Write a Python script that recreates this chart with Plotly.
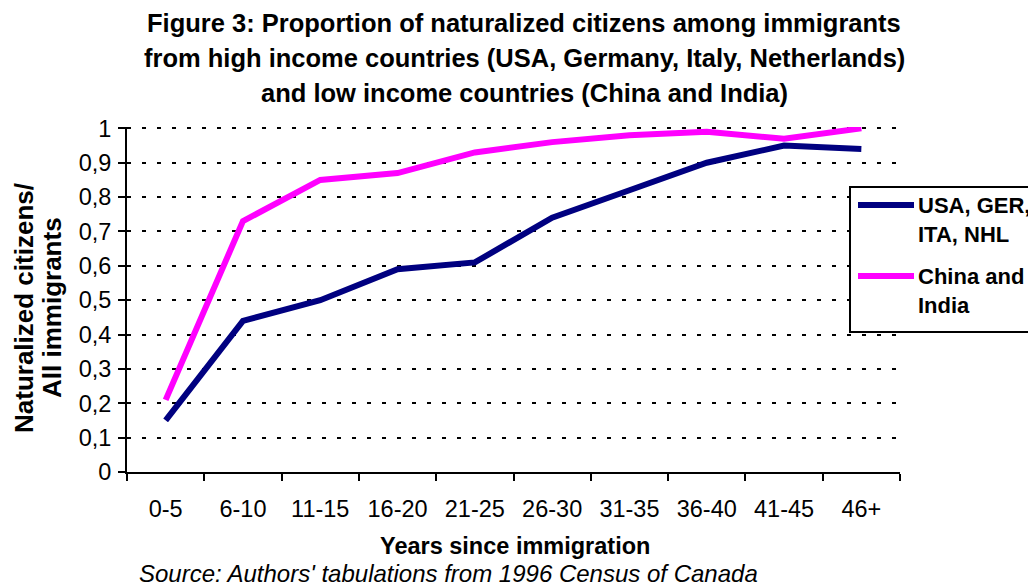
import plotly.graph_objects as go

categories = ["0-5", "6-10", "11-15", "16-20", "21-25", "26-30", "31-35", "36-40", "41-45", "46+"]
high_income = [0.15, 0.44, 0.50, 0.59, 0.61, 0.74, 0.82, 0.90, 0.95, 0.94]
low_income = [0.21, 0.73, 0.85, 0.87, 0.93, 0.96, 0.98, 0.99, 0.97, 1.00]
series_names = ["USA, GER,<br>ITA, NHL", "China and<br>India"]
ytick_vals = [0, 0.1, 0.2, 0.3, 0.4, 0.5, 0.6, 0.7, 0.8, 0.9, 1.0]
ytick_text = ["0", "0,1", "0,2", "0,3", "0,4", "0,5", "0,6", "0,7", "0,8", "0,9", "1"]
title_lines = [
    "Figure 3: Proportion of naturalized citizens among immigrants",
    "from high income countries (USA, Germany, Italy, Netherlands)",
    "and low income countries (China and India)",
]
ytitle_lines = ["Naturalized citizens/", "All immigrants"]

OFF = 8  # page body margin
W, H = 1036 - OFF, 587 - OFF
L, R, T, B = 127, 900, 127, 472   # plot area in window pixels
FONT = "Liberation Sans, Arial, sans-serif"
BLUE = "#000080"
PINK = "#FF00FF"

def px(x):
    return (x - L) / (R - L)

def py(y):
    return (B - y) / (B - T)

fig = go.Figure()
fig.add_trace(go.Scatter(x=categories, y=high_income, mode="lines",
                         line=dict(color=BLUE, width=6), name="USA, GER, ITA, NHL"))
fig.add_trace(go.Scatter(x=categories, y=low_income, mode="lines",
                         line=dict(color=PINK, width=6), name="China and India"))

fig.update_layout(
    width=W, height=H,
    margin=dict(l=L - OFF, r=(W + OFF) - R, t=T - OFF, b=(H + OFF) - B, pad=0),
    paper_bgcolor="white", plot_bgcolor="white",
    showlegend=False,
    font=dict(family=FONT, color="black", size=20),
)

fig.update_xaxes(
    type="category", range=[-0.5, 9.5],
    showline=True, linecolor="black", linewidth=2,
    ticks="outside", ticklen=7, tickwidth=2, tickcolor="black",
    tickson="boundaries", showgrid=False,
    tickfont=dict(family=FONT, size=23.5, color="black"),
    ticklabelstandoff=15,
)
fig.update_yaxes(
    range=[0, 1.004],
    tickvals=ytick_vals, ticktext=ytick_text,
    showline=True, linecolor="black", linewidth=2,
    ticks="outside", ticklen=7, tickwidth=2, tickcolor="black",
    showgrid=True, gridcolor="black", gridwidth=2, griddash="4px,11px",
    zeroline=False,
    tickfont=dict(family=FONT, size=23.5, color="black"),
    ticklabelstandoff=2,
)

annotations = []
for line, yc in zip(title_lines, [23, 58, 93]):
    annotations.append(dict(text="<b>" + line + "</b>",
                            xref="paper", yref="paper", x=px(524), y=py(yc),
                            xanchor="center", yanchor="middle", showarrow=False,
                            font=dict(family=FONT, size=25.5, color="black")))
for line, xc in zip(ytitle_lines, [24, 52]):
    annotations.append(dict(text="<b>" + line + "</b>", textangle=-90,
                            xref="paper", yref="paper", x=px(xc), y=py(308),
                            xanchor="center", yanchor="middle", showarrow=False,
                            font=dict(family=FONT, size=26, color="black")))
annotations += [
    dict(text="<b>Years since immigration</b>",
         xref="paper", yref="paper", x=px(515), y=py(546),
         xanchor="center", yanchor="middle", showarrow=False,
         font=dict(family=FONT, size=23.5, color="black")),
    dict(text="<i>Source: Authors' tabulations from 1996 Census of Canada</i>",
         xref="paper", yref="paper", x=px(138), y=py(573),
         xanchor="left", yanchor="middle", showarrow=False, borderpad=0,
         font=dict(family=FONT, size=24, color="black")),
    dict(text="<b>" + series_names[0] + "</b>", align="left",
         xref="paper", yref="paper", x=px(916), y=py(220),
         xanchor="left", yanchor="middle", showarrow=False,
         font=dict(family=FONT, size=22, color="black")),
    dict(text="<b>" + series_names[1] + "</b>", align="left",
         xref="paper", yref="paper", x=px(916), y=py(291),
         xanchor="left", yanchor="middle", showarrow=False,
         font=dict(family=FONT, size=22, color="black")),
]
fig.update_layout(annotations=annotations)

shapes = [
    dict(type="rect", xref="paper", yref="paper", x0=px(850), x1=px(1045),
         y0=py(332), y1=py(187), line=dict(color="black", width=2),
         fillcolor="white", layer="above"),
    dict(type="line", xref="paper", yref="paper", x0=px(858), x1=px(914),
         y0=py(205), y1=py(205), line=dict(color=BLUE, width=6), layer="above"),
    dict(type="line", xref="paper", yref="paper", x0=px(858), x1=px(914),
         y0=py(276), y1=py(276), line=dict(color=PINK, width=6), layer="above"),
]
fig.update_layout(shapes=shapes)

fig.write_html("out.html")
